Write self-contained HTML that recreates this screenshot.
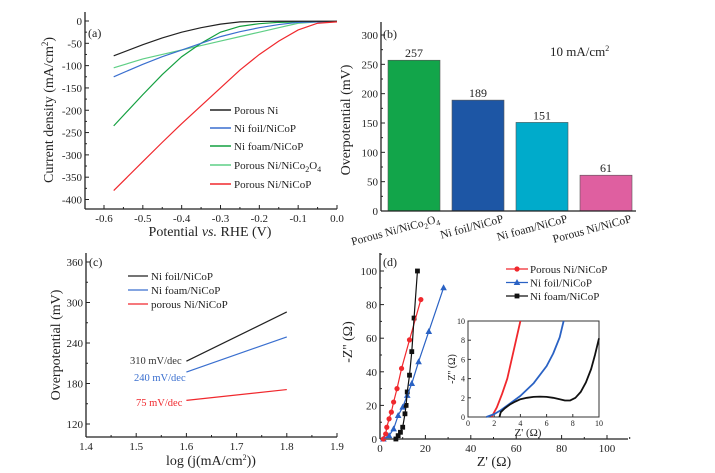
<!DOCTYPE html>
<html><head><meta charset="utf-8"><style>
html,body{margin:0;padding:0;background:#fff;}
svg{display:block;font-family:"Liberation Serif",serif;}
</style></head><body>
<svg id="fig" width="715" height="473" viewBox="0 0 715 473"></svg>
<script>
// ---------- data ----------
const aPotential = [-0.575,-0.5,-0.45,-0.4,-0.35,-0.3,-0.25,-0.2,-0.15,-0.1,-0.05,0];
const aPorousNi   = [-78,-53,-38,-25,-15,-7,-2,-1,-0.5,-0.5,-0.5,-0.5];
const aNiFoil     = [-125,-97,-80,-65,-50,-35,-24,-15,-8,-3,-2,-1];
const aNiFoam     = [-235,-165,-120,-80,-50,-25,-12,-6,-3,-2,-1,-1];
const aNiCo2O4    = [-105,-85,-75,-65,-55,-45,-35,-25,-15,-5,-2,-1];
const aPorousNiCoP= [-380,-315,-272,-230,-190,-150,-110,-75,-45,-20,-5,-2];
const aXTicks = [-0.6,-0.5,-0.4,-0.3,-0.2,-0.1,0.0];
const aYTicks = [0,-50,-100,-150,-200,-250,-300,-350,-400];
const bCategories = ["Porous Ni/NiCo2O4","Ni foil/NiCoP","Ni foam/NiCoP","Porous Ni/NiCoP"];
const bValues = [257,189,151,61];
const bYTicks = [0,50,100,150,200,250,300];
const cX = [1.6,1.8];
const cNiFoil = [213,286];
const cNiFoam = [197,249];
const cPorous = [155,171];
const cXTicks = [1.4,1.5,1.6,1.7,1.8,1.9];
const cYTicks = [120,180,240,300,360];
const dRedX = [1.5,2.5,3,4,5,6,7.5,9.5,13,18];
const dRedY = [0,3,7,12,16,22,30,42,59,83];
const dBlueX = [1.5,4,6,8,10,12,14,17,21.5,28];
const dBlueY = [0,2,6,14,19,26,33,46,64,90];
const dBlackX = [7,8,9,10,11,11.5,12,13,14,15,16.5];
const dBlackY = [0,2,4,7,15,20,28,38,52,72,100];
const dXTicks = [0,20,40,60,80,100];
const dYTicks = [0,20,40,60,80,100];
const iRedX = [1.8,2.2,2.6,3,3.5,4];
const iRedY = [0,1,2.4,4,7,10];
const iBlueX = [1.4,2,2.5,3,4,5,6,6.5,7,7.3];
const iBlueY = [0,0.3,0.7,1.2,2.2,3.5,5.3,6.6,8.3,10];
const iBlackX = [2.4,2.5,2.8,3.2,3.6,4,4.5,5,5.5,6,6.5,7,7.4,7.8,8.2,8.6,9,9.4,9.7,10];
const iBlackY = [0,0.5,0.9,1.3,1.6,1.85,2.0,2.1,2.12,2.1,2.0,1.85,1.72,1.72,2.0,2.6,3.6,5.0,6.5,8.2];
const iTicks = [0,2,4,6,8,10];

// ---------- helpers ----------
const NS="http://www.w3.org/2000/svg";
const svg=document.getElementById('fig');
function el(tag,attrs,parent){const e=document.createElementNS(NS,tag);for(const k in attrs)e.setAttribute(k,attrs[k]);(parent||svg).appendChild(e);return e;}
function txt(x,y,s,size,anchor,fill,parent){const t=el('text',{x:x,y:y,'font-size':size,'text-anchor':anchor||'start',fill:fill||'#222'},parent);t.textContent=s;return t;}
function lin(d0,d1,r0,r1){return v=>r0+(v-d0)/(d1-d0)*(r1-r0);}
function poly(xs,ys,sx,sy,color,name,w){const p=el('polyline',{points:xs.map((x,i)=>sx(x)+','+sy(ys[i])).join(' '),fill:'none',stroke:color,'stroke-width':w||1.2});

return p;}
function axes(g,x0,y0,x1,y1){el('line',{x1:x0,y1:y0,x2:x0,y2:y1,stroke:'#222','stroke-width':1.3},g);el('line',{x1:x0,y1:y1,x2:x1,y2:y1,stroke:'#222','stroke-width':1.3},g);}

// ---------- panel a ----------
{
const g=el('g',{});


const sx=lin(-0.6,0,104,337), sy=lin(0,-400,21,199.5);
axes(g,85,12,337,209);
aXTicks.forEach((v,i)=>{el('line',{x1:sx(v),y1:209,x2:sx(v),y2:205,stroke:'#222'},g);txt(sx(v),222,v.toFixed(1),11,'middle','#222',g);
if(i<aXTicks.length-1)el('line',{x1:sx(v+0.05),y1:209,x2:sx(v+0.05),y2:207,stroke:'#222'},g);});
aYTicks.forEach((v,i)=>{el('line',{x1:85,y1:sy(v),x2:89,y2:sy(v),stroke:'#222'},g);txt(82,sy(v)+4,String(v),11,'end','#222',g);
if(i<aYTicks.length-1)el('line',{x1:85,y1:sy(v-25),x2:87,y2:sy(v-25),stroke:'#222'},g);});
txt(88,37,'(a)',12,'start','#222',g);
const yt=txt(0,0,'',14,'middle','#222',g);yt.setAttribute('transform','translate(53,110) rotate(-90)');yt.innerHTML='Current density (mA/cm<tspan dy="-5" font-size="9">2</tspan><tspan dy="5">)</tspan>';

const xt=txt(210,236,'',14,'middle','#222',g);xt.innerHTML='Potential <tspan font-style="italic">vs.</tspan> RHE (V)';

poly(aPotential,aNiCo2O4,sx,sy,'#5fcf86','series-nico2o4');
poly(aPotential,aNiFoam,sx,sy,'#14a040','series-ni-foam');
poly(aPotential,aNiFoil,sx,sy,'#3a6fcf','series-ni-foil');
poly(aPotential,aPorousNi,sx,sy,'#222','series-porous-ni');
poly(aPotential,aPorousNiCoP,sx,sy,'#f0282d','series-porous-ni-nicop');
const leg=[['Porous Ni','#222'],['Ni foil/NiCoP','#3a6fcf'],['Ni foam/NiCoP','#14a040'],['Porous Ni/NiCo2O4','#5fcf86'],['Porous Ni/NiCoP','#f0282d']];
const ly=[110,128,146,165,184];
leg.forEach((l,i)=>{const e=el('g',{},g);


el('line',{x1:210,y1:ly[i],x2:231,y2:ly[i],stroke:l[1],'stroke-width':1.5},e);
const t=txt(234,ly[i]+4,'',11,'start','#222',e);
if(i==3)t.innerHTML='Porous Ni/NiCo<tspan dy="3" font-size="8">2</tspan><tspan dy="-3">O</tspan><tspan dy="3" font-size="8">4</tspan>';else t.textContent=l[0];});
}

// ---------- panel b ----------
{
const g=el('g',{});


const sy=lin(0,300,211,35);
const colors=['#12a54a','#1d56a5','#00abcb','#df5fa0'];
const x0=381,x1=636,bw=52,step=64,first=388;
bValues.forEach((v,i)=>{const r=el('rect',{x:first+i*step,y:sy(v),width:bw,height:211-sy(v),fill:colors[i],stroke:'#555','stroke-width':0.6},g);


txt(first+i*step+bw/2,sy(v)-3,String(v),12,'middle','#222',g);
const t=txt(0,0,'',11.5,'end','#222',g);t.setAttribute('transform','translate('+(first+i*step+bw/2+26)+',222) rotate(-15)');
if(i==0)t.innerHTML='Porous Ni/NiCo<tspan dy="3" font-size="8">2</tspan><tspan dy="-3">O</tspan><tspan dy="3" font-size="8">4</tspan>';else t.textContent=bCategories[i];
});
axes(g,x0,22,x1,211);
bYTicks.forEach(v=>{el('line',{x1:x0,y1:sy(v),x2:x0+4,y2:sy(v),stroke:'#222'},g);txt(x0-3,sy(v)+4,String(v),11,'end','#222',g);
if(v<300)el('line',{x1:x0,y1:sy(v+25),x2:x0+2,y2:sy(v+25),stroke:'#222'},g);});
txt(383,38,'(b)',12,'start','#222',g);
const yt=txt(0,0,'Overpotential (mV)',14,'middle','#222',g);yt.setAttribute('transform','translate(350,120) rotate(-90)');

const a=txt(550,56,'',13,'start','#222',g);a.innerHTML='10 mA/cm<tspan dy="-5" font-size="8">2</tspan>';
}

// ---------- panel c ----------
{
const g=el('g',{});


const sx=lin(1.4,1.9,86,337), sy=lin(360,120,262,424);
axes(g,86,253,337,437);
cXTicks.forEach(v=>{el('line',{x1:sx(v),y1:437,x2:sx(v),y2:433,stroke:'#222'},g);txt(sx(v),450,v.toFixed(1),11,'middle','#222',g);
if(v<1.85)el('line',{x1:sx(v+0.05),y1:437,x2:sx(v+0.05),y2:435,stroke:'#222'},g);});
cYTicks.forEach(v=>{el('line',{x1:86,y1:sy(v),x2:90,y2:sy(v),stroke:'#222'},g);txt(83,sy(v)+4,String(v),11,'end','#222',g);
if(v<360)el('line',{x1:86,y1:sy(v+30),x2:88,y2:sy(v+30),stroke:'#222'},g);});
txt(89,266,'(c)',12,'start','#222',g);
const yt=txt(0,0,'Overpotential (mV)',14,'middle','#222',g);yt.setAttribute('transform','translate(60,345) rotate(-90)');

const xt=txt(211,465,'',14,'middle','#222',g);xt.innerHTML='log (j(mA/cm<tspan dy="-5" font-size="8">2</tspan><tspan dy="5">))</tspan>';

poly(cX,cNiFoil,sx,sy,'#222','series-ni-foil-tafel');
poly(cX,cNiFoam,sx,sy,'#3a6fcf','series-ni-foam-tafel');
poly(cX,cPorous,sx,sy,'#f0282d','series-porous-tafel');
txt(130,364,'310 mV/dec',10.5,'start','#333',g);
txt(134,381,'240 mV/dec',10.5,'start','#3a6fcf',g);
txt(136,406,'75 mV/dec',10.5,'start','#f0282d',g);
[['Ni foil/NiCoP','#222'],['Ni foam/NiCoP','#3a6fcf'],['porous Ni/NiCoP','#f0282d']].forEach((l,i)=>{const y=276+i*14;
const e=el('g',{},g);


el('line',{x1:128,y1:y,x2:148,y2:y,stroke:l[1],'stroke-width':1.3},e);txt(151,y+4,l[0],11,'start','#222',e);});
}

// ---------- panel d ----------
{
const g=el('g',{});


const sx=lin(0,100,380,607), sy=lin(0,100,439,271);
axes(g,380,253,628,439);
dXTicks.forEach(v=>{el('line',{x1:sx(v),y1:439,x2:sx(v),y2:435,stroke:'#222'},g);txt(sx(v),452,String(v),11,'middle','#222',g);
el('line',{x1:sx(v+10),y1:439,x2:sx(v+10),y2:437,stroke:'#222'},g);});
dYTicks.forEach(v=>{el('line',{x1:380,y1:sy(v),x2:384,y2:sy(v),stroke:'#222'},g);txt(377,sy(v)+4,String(v),11,'end','#222',g);
el('line',{x1:380,y1:sy(v+10),x2:382,y2:sy(v+10),stroke:'#222'},g);});
txt(383,266,'(d)',12,'start','#222',g);
const yt=txt(0,0,"-Z'' (Ω)",14,'middle','#222',g);yt.setAttribute('transform','translate(352,342) rotate(-90)');

const xt=txt(494,466,"Z' (Ω)",14,'middle','#222',g);

function markers(xs,ys,kind,color,name){xs.forEach((x,i)=>{const cx=sx(x),cy=sy(ys[i]);let m;
if(kind=='c')m=el('circle',{cx:cx,cy:cy,r:2.6,fill:color},g);
else if(kind=='t')m=el('polygon',{points:(cx)+','+(cy-3.5)+' '+(cx-3.3)+','+(cy+2.5)+' '+(cx+3.3)+','+(cy+2.5),fill:color},g);
else m=el('rect',{x:cx-2.4,y:cy-2.4,width:4.8,height:4.8,fill:color},g);

});}
poly(dBlueX,dBlueY,sx,sy,'#2a62c4','series-ni-foil-eis');markers(dBlueX,dBlueY,'t','#2a62c4','point-ni-foil');
poly(dRedX,dRedY,sx,sy,'#f0282d','series-porous-eis');markers(dRedX,dRedY,'c','#f0282d','point-porous');
poly(dBlackX,dBlackY,sx,sy,'#111','series-ni-foam-eis');markers(dBlackX,dBlackY,'s','#111','point-ni-foam');
[['Porous Ni/NiCoP','#f0282d','c'],['Ni foil/NiCoP','#2a62c4','t'],['Ni foam/NiCoP','#111','s']].forEach((l,i)=>{const y=269+i*13.5;
const e=el('g',{},g);


el('line',{x1:506,y1:y,x2:528,y2:y,stroke:l[1],'stroke-width':1.2},e);
if(l[2]=='c')el('circle',{cx:517,cy:y,r:2.6,fill:l[1]},e);else if(l[2]=='t')el('polygon',{points:'517,'+(y-3.5)+' 513.7,'+(y+2.5)+' 520.3,'+(y+2.5),fill:l[1]},e);else el('rect',{x:514.6,y:y-2.4,width:4.8,height:4.8,fill:l[1]},e);
txt(530,y+4,l[0],11,'start','#222',e);});
const ig=el('g',{},g);


const ix=lin(0,10,468,599), iy=lin(0,10,417,321);
el('rect',{x:468,y:321,width:131,height:96,fill:'#fff',stroke:'#333','stroke-width':1},ig);
iTicks.forEach(v=>{el('line',{x1:ix(v),y1:417,x2:ix(v),y2:414,stroke:'#333'},ig);txt(ix(v),426,String(v),8,'middle','#222',ig);
el('line',{x1:468,y1:iy(v),x2:471,y2:iy(v),stroke:'#333'},ig);txt(465,iy(v)+3,String(v),8,'end','#222',ig);});
txt(528,436,"Z' (Ω)",11,'middle','#222',ig);
const iyt=txt(0,0,"-Z'' (Ω)",10,'middle','#222',ig);iyt.setAttribute('transform','translate(455,369) rotate(-90)');
function ip(xs,ys,c,n){const p=el('polyline',{points:xs.map((x,i)=>ix(x)+','+iy(ys[i])).join(' '),fill:'none',stroke:c,'stroke-width':1.8,'stroke-linejoin':'round'},ig);

}
ip(iRedX,iRedY,'#f0282d','inset-porous');
ip(iBlueX,iBlueY,'#2a62c4','inset-ni-foil');
ip(iBlackX,iBlackY,'#111','inset-ni-foam');
}
</script>
</body></html>
